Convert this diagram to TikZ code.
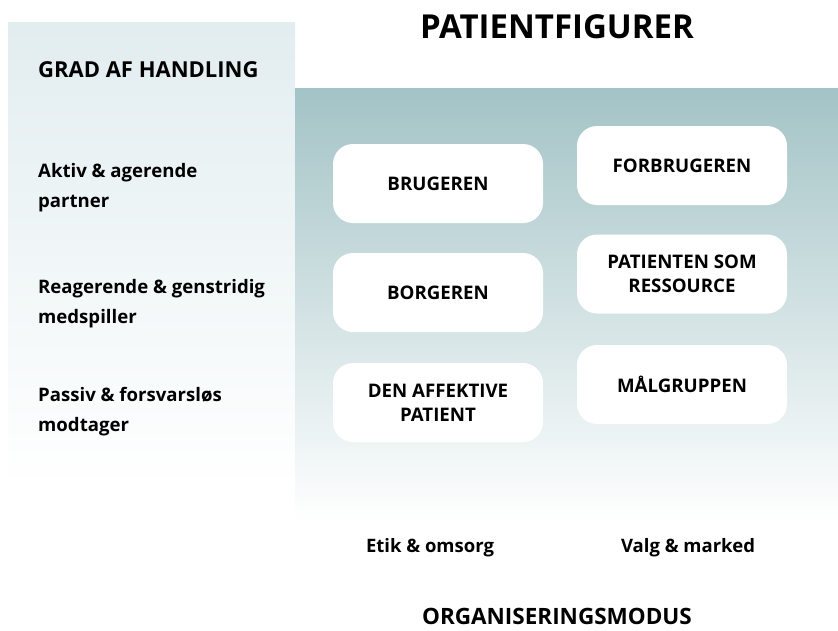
\documentclass[tikz,border=0pt]{standalone}
\usepackage{fontspec}
\setmainfont{Open Sans}
\usetikzlibrary{positioning}
\definecolor{tealtop}{HTML}{A3C3C6}
\definecolor{paletop}{HTML}{E2EDF0}
\begin{document}
\begin{tikzpicture}[x=1pt, y=-1pt,
  fig/.style={rectangle, rounded corners=20pt, fill=white, minimum width=210pt, minimum height=79pt, align=center, inner sep=2pt, font=\bfseries\fontsize{18.7}{24}\selectfont},
  lvl/.style={anchor=west, align=left, inner sep=0pt, font=\bfseries\fontsize{18.6}{30}\selectfont},
  ax/.style={anchor=base, inner sep=0pt, font=\bfseries\fontsize{18.5}{22}\selectfont},
  hd/.style={inner sep=0pt, font=\bfseries\fontsize{22.5}{26}\selectfont}]
\useasboundingbox (0,0) rectangle (838,630);
% background panels
\shade[top color=paletop, bottom color=white] (8,22) rectangle (295,490);
\shade[top color=tealtop, bottom color=white] (295,88) rectangle (838,522);
% headings
\node[hd, anchor=base, font=\bfseries\fontsize{33}{36}\selectfont] (title) at (557,38) {PATIENTFIGURER};
\node[hd, anchor=base west, font=\bfseries\fontsize{22}{26}\selectfont] (grad) at (38,77) {GRAD AF HANDLING};
\node[hd, anchor=base] (orgmod) at (557,624) {ORGANISERINGSMODUS};
% degree of action
\node[lvl] (aktiv) at (38,188) {Aktiv \& agerende\\partner};
\node[lvl] (reag) at (38,304) {Reagerende \& genstridig\\medspiller};
\node[lvl] (passiv) at (38,412) {Passiv \& forsvarsløs\\modtager};
% patient figures
\node[fig] (bruger) at (438,183.5) {BRUGEREN};
\node[fig] (borger) at (438,292.5) {BORGEREN};
\node[fig] (affektiv) at (438,402.5) {DEN AFFEKTIVE\\PATIENT};
\node[fig] (forbruger) at (682,165.5) {FORBRUGEREN};
\node[fig] (ressource) at (682,274) {PATIENTEN SOM\\RESSOURCE};
\node[fig] (maal) at (682,384.5) {MÅLGRUPPEN};
% organising mode
\node[ax] (etik) at (430,552) {Etik \& omsorg};
\node[ax] (valg) at (688,552) {Valg \& marked};
\end{tikzpicture}
\end{document}
